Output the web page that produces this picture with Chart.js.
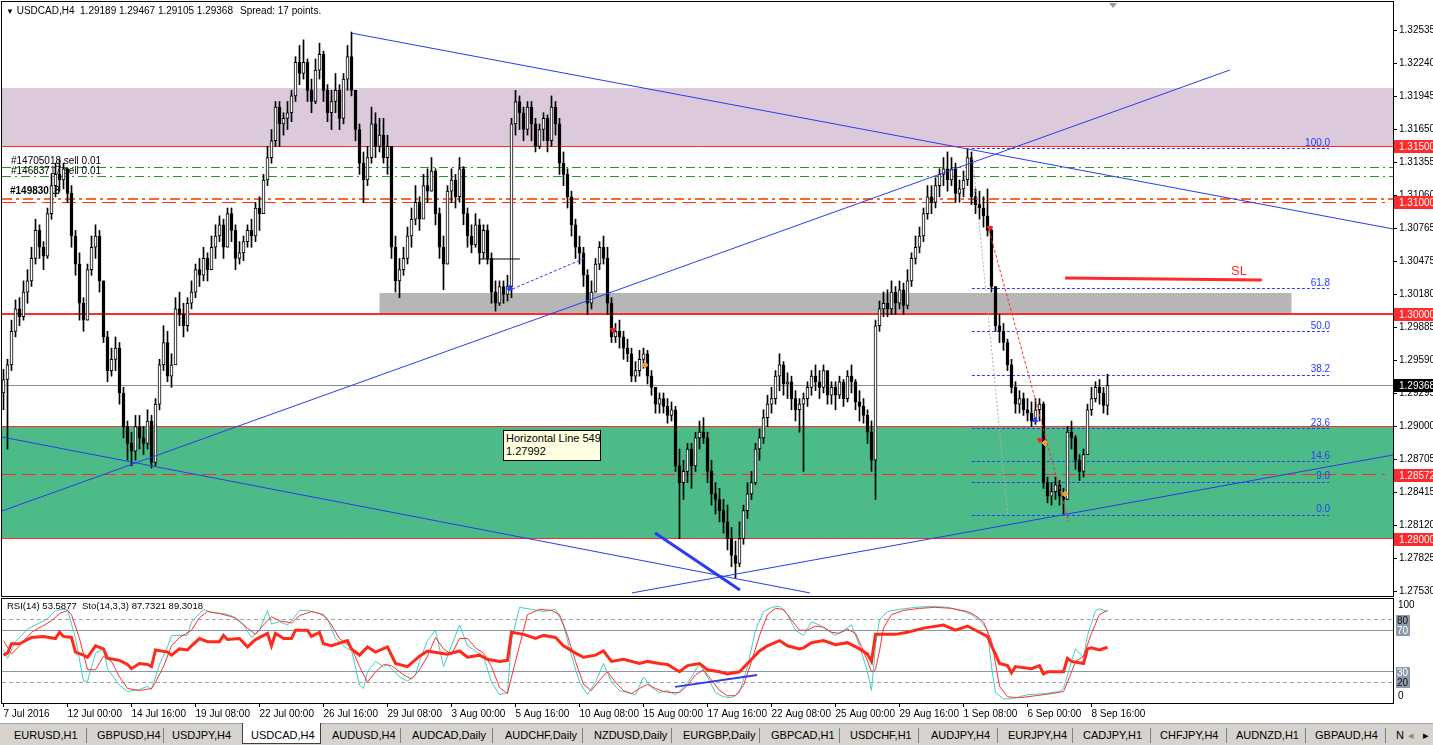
<!DOCTYPE html>
<html>
<head>
<meta charset="utf-8">
<script src="https://cdn.jsdelivr.net/npm/chart.js@4.4.1/dist/chart.umd.min.js"></script>
<style>
html,body{margin:0;padding:0;background:#fff;}
body{width:1433px;height:745px;position:relative;overflow:hidden;font-family:"Liberation Sans",Arial,sans-serif;color:#000;}
canvas{position:absolute;left:0;}
#mainCv{top:0;}
#indCv{top:597px;}
#hdr{position:absolute;left:6px;top:5px;font-size:10px;line-height:12px;white-space:pre;}
#hdr .tri{font-size:8px;}
#spread{position:absolute;left:240px;top:5px;font-size:10px;line-height:12px;white-space:pre;}
#indCap{position:absolute;left:7px;top:600px;font-size:9.5px;line-height:12px;white-space:pre;}
#tip{position:absolute;left:503px;top:430px;width:92px;height:27px;border:1px solid #000;background:#FFFFE1;font-size:11px;line-height:13px;padding:1px 2px;white-space:nowrap;}
#tabs{position:absolute;left:0;top:723px;width:1433px;height:22px;background:#D6D3CE;border-top:1px solid #A0A0A0;}
.tab{position:absolute;top:5px;font-size:11px;line-height:13px;color:#000;white-space:nowrap;}
.sep{position:absolute;top:4px;width:1px;height:15px;background:#808080;}
#act{position:absolute;left:242px;top:-1px;width:77px;height:20px;background:#fff;border:1px solid #404040;border-top:none;}
</style>
</head>
<body>
<canvas id="mainCv" width="1433" height="597"></canvas>
<canvas id="indCv" width="1433" height="126"></canvas>
<div id="hdr"><span class="tri">▼</span> USDCAD,H4  1.29189 1.29467 1.29105 1.29368</div>
<div id="spread">Spread: 17 points.</div>
<div id="indCap">RSI(14) 53.5877  Sto(14,3,3) 87.7321 89.3018</div>
<div id="tip">Horizontal Line 549<br>1.27992</div>
<div id="tabs"><div id="act"></div></div>
<script>
// ---------------- DATA ----------------
const tickLabels = ['7 Jul 2016','12 Jul 00:00','14 Jul 16:00','19 Jul 08:00','22 Jul 00:00','26 Jul 16:00','29 Jul 08:00','3 Aug 00:00','5 Aug 16:00','10 Aug 08:00','15 Aug 00:00','17 Aug 16:00','22 Aug 08:00','25 Aug 00:00','29 Aug 16:00','1 Sep 08:00','6 Sep 00:00','8 Sep 16:00'];
const barsPerLabel = 16;
const priceTicks = [1.27530,1.27825,1.28120,1.28415,1.28705,1.29000,1.29295,1.29590,1.29885,1.30180,1.30475,1.30765,1.31060,1.31355,1.31650,1.31945,1.32240,1.32535];

const firstOpen = 1.2930;
const closes = [
1.2942,1.2955,1.2985,1.3005,1.2998,1.3020,1.3030,1.3050,1.3075,1.3060,
1.3052,1.3090,1.3115,1.3125,1.3120,1.3130,1.3108,1.3070,1.3045,1.3010,
1.2995,1.3040,1.3060,1.3070,1.3030,1.2980,1.2950,1.2960,1.2970,1.2930,
1.2900,1.2885,1.2878,1.2900,1.2890,1.2885,1.2905,1.2868,1.2920,1.2955,
1.2975,1.2945,1.2955,1.3005,1.3000,1.2990,1.3010,1.3020,1.3040,1.3035,
1.3050,1.3040,1.3060,1.3070,1.3080,1.3060,1.3090,1.3075,1.3050,1.3055,
1.3065,1.3075,1.3070,1.3095,1.3090,1.3120,1.3140,1.3155,1.3185,1.3170,
1.3175,1.3180,1.3195,1.3225,1.3215,1.3225,1.3200,1.3190,1.3218,1.3232,
1.3200,1.3180,1.3190,1.3200,1.3175,1.3210,1.3230,1.3200,1.3165,1.3135,
1.3120,1.3140,1.3170,1.3150,1.3160,1.3140,1.3150,1.3060,1.3030,1.3040,
1.3050,1.3070,1.3085,1.3100,1.3085,1.3115,1.3110,1.3128,1.3090,1.3060,
1.3045,1.3110,1.3120,1.3105,1.3130,1.3090,1.3070,1.3062,1.3080,1.3055,
1.3075,1.3050,1.3020,1.3010,1.3025,1.3018,1.3025,1.3170,1.3190,1.3180,
1.3165,1.3185,1.3170,1.3150,1.3165,1.3175,1.3155,1.3185,1.3170,1.3135,
1.3125,1.3105,1.3080,1.3060,1.3055,1.3035,1.3010,1.3020,1.3045,1.3060,
1.3050,1.3010,1.2980,1.2985,1.2980,1.2970,1.2965,1.2945,1.2950,1.2960,
1.2965,1.2945,1.2935,1.2920,1.2925,1.2918,1.2910,1.2915,1.2865,1.2850,
1.2860,1.2880,1.2865,1.2890,1.2895,1.2890,1.2860,1.2840,1.2835,1.2825,
1.2815,1.2800,1.2785,1.2778,1.2800,1.2825,1.2840,1.2850,1.2880,1.2890,
1.2908,1.2920,1.2925,1.2945,1.2955,1.2938,1.2940,1.2925,1.2915,1.2920,
1.2925,1.2935,1.2945,1.2940,1.2935,1.2950,1.2928,1.2935,1.2928,1.2940,
1.2925,1.2945,1.2940,1.2922,1.2918,1.2910,1.2895,1.2870,1.2990,1.3005,
1.3010,1.3005,1.3020,1.3010,1.3022,1.3008,1.3030,1.3050,1.3060,1.3070,
1.3090,1.3105,1.3100,1.3115,1.3125,1.3130,1.3120,1.3130,1.3108,1.3112,
1.3120,1.3140,1.3105,1.3098,1.3095,1.3088,1.3075,1.3025,1.2990,1.2985,
1.2975,1.2955,1.2935,1.2920,1.2925,1.2915,1.2912,1.2905,1.2915,1.2920,
1.2850,1.2838,1.2842,1.2848,1.2838,1.2835,1.2895,1.2890,1.2870,1.2860,
1.2875,1.2915,1.2925,1.2935,1.2930,1.29189,1.29368];
const highs = [
1.2951,1.2960,1.2995,1.3013,1.3015,1.3030,1.3040,1.3060,1.3085,1.3080,
1.3065,1.3095,1.3125,1.3135,1.3138,1.3135,1.3130,1.3115,1.3075,1.3055,
1.3015,1.3045,1.3070,1.3080,1.3075,1.3030,1.2985,1.2970,1.2980,1.2975,
1.2935,1.2905,1.2895,1.2910,1.2910,1.2900,1.2915,1.2910,1.2925,1.2960,
1.2990,1.2985,1.2965,1.3015,1.3020,1.3010,1.3015,1.3030,1.3045,1.3050,
1.3060,1.3055,1.3070,1.3080,1.3088,1.3085,1.3095,1.3095,1.3080,1.3065,
1.3070,1.3080,1.3085,1.3100,1.3105,1.3125,1.3150,1.3165,1.3190,1.3190,
1.3180,1.3190,1.3200,1.3230,1.3240,1.3245,1.3228,1.3210,1.3228,1.3242,
1.3235,1.3205,1.3200,1.3215,1.3205,1.3215,1.3240,1.3252,1.3200,1.3170,
1.3145,1.3150,1.3185,1.3180,1.3175,1.3175,1.3160,1.3150,1.3070,1.3050,
1.3060,1.3078,1.3095,1.3115,1.3105,1.3125,1.3130,1.3140,1.3130,1.3095,
1.3070,1.3115,1.3130,1.3125,1.3140,1.3132,1.3095,1.3080,1.3090,1.3085,
1.3080,1.3080,1.3055,1.3030,1.3030,1.3030,1.3035,1.3175,1.3200,1.3195,
1.3185,1.3190,1.3190,1.3175,1.3170,1.3180,1.3178,1.3195,1.3190,1.3175,
1.3145,1.3130,1.3110,1.3085,1.3070,1.3060,1.3040,1.3030,1.3050,1.3065,
1.3070,1.3060,1.3015,1.2992,1.2995,1.2985,1.2978,1.2970,1.2958,1.2968,
1.2970,1.2968,1.2950,1.2935,1.2930,1.2930,1.2925,1.2922,1.2918,1.2880,
1.2870,1.2885,1.2885,1.2895,1.2905,1.2908,1.2895,1.2870,1.2850,1.2845,
1.2835,1.2830,1.2810,1.2798,1.2815,1.2830,1.2850,1.2860,1.2885,1.2898,
1.2915,1.2928,1.2935,1.2950,1.2965,1.2958,1.2948,1.2945,1.2932,1.2925,
1.2930,1.2940,1.2950,1.2955,1.2950,1.2955,1.2950,1.2940,1.2940,1.2945,
1.2942,1.2950,1.2955,1.2942,1.2932,1.2925,1.2915,1.2905,1.2995,1.3012,
1.3020,1.3022,1.3030,1.3025,1.3030,1.3028,1.3040,1.3055,1.3070,1.3078,
1.3095,1.3115,1.3115,1.3122,1.3130,1.3140,1.3145,1.3140,1.3135,1.3120,
1.3128,1.3148,1.3145,1.3112,1.3110,1.3105,1.3112,1.3078,1.3025,1.3000,
1.2992,1.2978,1.2960,1.2940,1.2932,1.2930,1.2925,1.2922,1.2925,1.2925,
1.2922,1.2855,1.2850,1.2855,1.2852,1.2845,1.2900,1.2905,1.2892,1.2875,
1.2880,1.2920,1.2935,1.2940,1.2942,1.2935,1.29467];
const lows = [
1.2915,1.2880,1.2950,1.2980,1.2990,1.2995,1.3010,1.3025,1.3045,1.3050,
1.3040,1.3050,1.3085,1.3105,1.3110,1.3112,1.3100,1.3060,1.3035,1.2995,
1.2985,1.2995,1.3035,1.3050,1.3020,1.2975,1.2940,1.2945,1.2950,1.2920,
1.2890,1.2870,1.2865,1.2870,1.2880,1.2875,1.2880,1.2863,1.2865,1.2915,
1.2950,1.2940,1.2935,1.2960,1.2990,1.2980,1.2985,1.3005,1.3015,1.3025,
1.3030,1.3030,1.3040,1.3050,1.3065,1.3050,1.3060,1.3065,1.3040,1.3045,
1.3048,1.3060,1.3060,1.3065,1.3075,1.3090,1.3115,1.3135,1.3150,1.3150,
1.3160,1.3165,1.3172,1.3190,1.3205,1.3210,1.3190,1.3180,1.3188,1.3210,
1.3190,1.3172,1.3165,1.3180,1.3165,1.3170,1.3200,1.3195,1.3155,1.3125,
1.3100,1.3115,1.3135,1.3140,1.3145,1.3135,1.3125,1.3050,1.3020,1.3015,
1.3035,1.3045,1.3060,1.3080,1.3075,1.3090,1.3100,1.3110,1.3080,1.3050,
1.3022,1.3045,1.3100,1.3095,1.3100,1.3080,1.3060,1.3055,1.3060,1.3045,
1.3050,1.3045,1.3010,1.3003,1.3008,1.3010,1.3012,1.3015,1.3160,1.3165,
1.3155,1.3160,1.3155,1.3145,1.3148,1.3155,1.3145,1.3150,1.3160,1.3125,
1.3115,1.3095,1.3070,1.3050,1.3045,1.3025,1.3000,1.3005,1.3020,1.3040,
1.3045,1.3000,1.2975,1.2975,1.2970,1.2960,1.2958,1.2940,1.2940,1.2945,
1.2952,1.2938,1.2928,1.2912,1.2912,1.2912,1.2903,1.2905,1.2860,1.2800,
1.2835,1.2850,1.2845,1.2860,1.2880,1.2885,1.2850,1.2830,1.2822,1.2815,
1.2805,1.2790,1.2775,1.2765,1.2775,1.2795,1.2818,1.2835,1.2848,1.2870,
1.2885,1.2900,1.2912,1.2920,1.2932,1.2928,1.2925,1.2915,1.2905,1.2895,
1.2860,1.2918,1.2928,1.2932,1.2925,1.2930,1.2920,1.2920,1.2915,1.2925,
1.2918,1.2922,1.2930,1.2915,1.2905,1.2903,1.2885,1.2860,1.2835,1.2985,
1.2998,1.2998,1.3000,1.3000,1.3005,1.3000,1.3005,1.3025,1.3045,1.3055,
1.3065,1.3085,1.3090,1.3095,1.3105,1.3115,1.3110,1.3115,1.3100,1.3100,
1.3105,1.3115,1.3098,1.3090,1.3085,1.3078,1.3070,1.3020,1.2985,1.2975,
1.2968,1.2950,1.2930,1.2912,1.2912,1.2910,1.2905,1.2900,1.2902,1.2905,
1.2845,1.2832,1.2830,1.2835,1.2830,1.2822,1.2835,1.2880,1.2862,1.2852,
1.2855,1.2875,1.2910,1.2922,1.2920,1.2912,1.29105];

// indicator readings: [bar index, value]
const rsiPts = [[0,46],[1,48],[2,57],[4,57],[7,63],[10,64],[13,62],[14,68],[15,64],[17,63],[18,49],[20,46],[21,44],[23,55],[25,52],[26,43],[29,41],[31,37],[32,33],[34,38],[36,37],[37,35],[38,51],[41,49],[42,46],[44,52],[46,51],[47,55],[49,62],[51,59],[54,59],[55,65],[56,61],[59,62],[61,54],[63,61],[66,67],[67,55],[68,67],[70,62],[72,62],[73,70],[76,70],[77,64],[79,68],[80,57],[82,55],[86,60],[87,52],[89,46],[91,54],[93,49],[96,54],[98,38],[101,35],[104,45],[106,50],[109,48],[111,47],[114,50],[116,44],[119,46],[121,42],[124,40],[126,41],[127,68],[130,66],[133,62],[135,65],[138,63],[140,55],[143,48],[145,44],[148,46],[150,50],[152,40],[155,42],[159,38],[161,40],[164,38],[166,37],[169,30],[171,36],[174,38],[176,32],[179,30],[181,28],[184,30],[186,38],[189,50],[191,55],[194,60],[196,55],[199,52],[200,53],[202,58],[205,60],[208,56],[211,58],[214,52],[216,47],[217,40],[218,66],[223,66],[226,68],[230,72],[235,75],[238,70],[241,74],[244,68],[246,64],[247,55],[248,47],[249,38],[251,36],[252,29],[253,35],[257,33],[259,36],[260,28],[261,30],[265,30],[266,43],[267,40],[270,38],[271,52],[272,53],[274,51],[276,53.59]];
const stochMainPts = [[0,51],[1,43],[3,59],[6,71],[11,81],[13,89],[15,90],[16,90],[18,62],[20,21],[21,21],[23,48],[25,52],[26,33],[29,17],[31,11],[34,13],[36,16],[37,13],[39,37],[41,54],[42,65],[46,65],[47,78],[50,90],[52,87],[55,86],[57,84],[60,75],[62,63],[64,70],[66,89],[67,76],[69,78],[71,75],[72,79],[74,89],[76,89],[79,86],[81,81],[83,62],[86,52],[87,51],[89,17],[90,14],[91,30],[93,40],[95,35],[96,37],[99,25],[101,21],[103,27],[104,40],[106,60],[108,70],[110,35],[112,55],[114,75],[116,55],[118,50],[120,45],[122,20],[124,8],[126,10],[127,60],[129,92],[132,90],[135,88],[138,90],[140,75],[142,45],[144,20],[146,8],[148,20],[150,38],[152,20],[154,12],[156,10],[158,8],[160,25],[162,15],[164,10],[166,12],[168,8],[170,15],[172,25],[174,38],[176,25],[178,10],[180,6],[182,5],[184,10],[186,35],[188,70],[190,88],[192,92],[194,93],[196,85],[198,70],[200,65],[202,78],[204,75],[206,70],[208,65],[210,70],[212,75],[214,55],[216,30],[217,12],[218,55],[219,80],[221,88],[224,90],[228,92],[232,93],[236,92],[240,88],[242,85],[244,80],[246,70],[247,35],[248,10],[250,4],[252,4],[256,8],[260,9],[264,11],[265,14],[267,40],[268,52],[270,44],[271,65],[273,89],[274,90.5],[276,87.73]];
const stochSignalPts = [[0,60],[2,47],[4,55],[7,68],[12,79],[14,86],[16,89],[17,85],[19,62],[21,32],[23,32],[25,45],[27,40],[29,25],[31,14],[34,12],[37,14],[38,20],[40,35],[42,55],[44,63],[47,70],[49,82],[51,88],[54,86],[58,82],[61,72],[63,66],[65,75],[67,83],[69,79],[72,77],[74,84],[77,88],[80,85],[82,75],[84,62],[87,53],[89,35],[91,20],[93,30],[95,37],[97,36],[100,27],[102,23],[104,32],[106,45],[108,63],[110,52],[112,47],[114,62],[116,62],[118,53],[120,48],[122,35],[124,15],[126,9],[127,25],[129,55],[131,85],[134,90],[137,89],[139,85],[141,65],[143,40],[145,18],[147,12],[149,22],[151,30],[153,20],[155,12],[157,9],[159,14],[161,18],[163,14],[165,11],[167,10],[169,10],[171,17],[173,27],[175,32],[177,22],[179,12],[181,7],[183,7],[185,17],[187,40],[189,65],[191,85],[193,91],[195,90],[197,80],[199,70],[201,70],[203,74],[205,73],[207,68],[209,67],[211,71],[213,67],[215,50],[217,30],[218,32],[219,50],[220,72],[222,85],[225,89],[229,91],[233,92],[237,91],[241,88],[243,84],[245,78],[247,60],[248,38],[249,16],[251,6],[254,5],[258,7],[262,9],[265,11],[266,20],[268,40],[270,45],[272,67],[274,85],[276,89.30]];
const rsiLevels = [20, 30, 70, 80];

// price objects
const purpleZone = [1.3150, 1.3202];
const greenZone = [1.2800, 1.2900];
const greyZoneBars = [94, 322];
const greyZonePrices = [1.3000, 1.30192];
const thinRedLevels = [1.3150, 1.2900, 1.2800];
const boldRedLevel = 1.3000;
const dashedRedLevels = [1.3100, 1.28572];
const orangeLevel = 1.3103;
const orderLevels = [1.31313, 1.31229];
const orderTexts = ['#14705018 sell 0.01', '#14683717 sell 0.01'];
const orangeText = '#14983018';
const currentPrice = 1.29368;
const redAxisLabels = [1.31500, 1.31000, 1.30000, 1.28572, 1.28000];
const fibHigh = 1.3148, fibLow = 1.2821;
const fibRatios = [0, 9.0, 14.6, 23.6, 38.2, 50.0, 61.8, 100.0];
const fibBars = [242.1, 331.4];

const trendTop = [[87, 1.3251], [347.4, 1.30763]];
const trendRise = [[-0.4, 1.28247], [306.6, 1.32181]];
const trendFall = [[-0.4, 1.28907], [201.6, 1.27516]];
const trendLow = [[157.1, 1.27516], [347.4, 1.28747]];
const divergencePrice = [[162.9, 1.28051], [184.1, 1.27543]];
const dottedBlue = [[126.1, 1.30210], [145.4, 1.30504]];
const blackSeg = [[119.1, 1.30495], [129.1, 1.30495]];
const redDiag = [[246.1, 1.30790], [266.3, 1.28150]];
const greyDiag = [[242.1, 1.31467], [251.1, 1.28212]];
const slLine = [[265.4, 1.30326], [314.6, 1.30308]];
const divergenceRsi = [[167.9, 15.5], [188.4, 27]];
// trade arrows: [bar index, price]
const sellMarks = [[152.4, 1.29862], [246.6, 1.30772], [259.1, 1.28880]];
const buyMarks = [[126.6, 1.30236], [257.9, 1.29059]];
const closeMarks = [[160.4, 1.29550], [260.4, 1.28854], [265.4, 1.28399]];

const tabNames = ['EURUSD,H1','GBPUSD,H4','USDJPY,H4','USDCAD,H4','AUDUSD,H4','AUDCAD,Daily','AUDCHF,Daily','NZDUSD,Daily','EURGBP,Daily','GBPCAD,H1','USDCHF,H1','AUDJPY,H4','EURJPY,H4','CADJPY,H1','CHFJPY,H4','AUDNZD,H1','GBPAUD,H4','N'];

// ---------------- LAYOUT ----------------
const tabLefts = [14,97,172,251,332,412,505,594,683,771,850,931,1008,1083,1160,1236,1315,1396];
const sepLefts = [86,163,400,492,582,671,759,839,918,997,1072,1150,1226,1305,1385];
const tabsEl = document.getElementById('tabs');
tabNames.forEach((t,k)=>{const d=document.createElement('div');d.className='tab';d.style.left=tabLefts[k]+'px';d.textContent=t;tabsEl.appendChild(d);});
sepLefts.forEach(x=>{const d=document.createElement('div');d.className='sep';d.style.left=x+'px';tabsEl.appendChild(d);});
const arr=document.createElement('div');arr.className='tab';arr.style.left='1408px';arr.style.color='#888';arr.textContent='◂';tabsEl.appendChild(arr);
const arr2=document.createElement('div');arr2.className='tab';arr2.style.left='1423px';arr2.textContent='▸';tabsEl.appendChild(arr2);

Chart.defaults.font.family = '"Liberation Sans", Arial, sans-serif';
Chart.defaults.font.size = 10;
Chart.defaults.color = '#000';

const X_MIN = -0.375, X_MAX = 347.375;
const Y_MIN = 1.274888, Y_MAX = 1.327877;
const FONT = '10px "Liberation Sans", Arial, sans-serif';

const opens = closes.map((c,i)=> i===0 ? firstOpen : closes[i-1]);
const wickData = closes.map((c,i)=>({x:i, y:[lows[i], highs[i]]}));
const bodyData = closes.map((c,i)=>({x:i, y:[opens[i], c]}));
const bodyFill = closes.map((c,i)=> c >= opens[i] ? '#ffffff' : '#000000');
const toXY = pts => pts.map(p=>({x:p[0], y:p[1]}));

function hLine(ctx, a, py, color, w, dash, x0, x1){
  ctx.save();
  ctx.strokeStyle=color; ctx.lineWidth=w; ctx.setLineDash(dash||[]);
  const yy = (w%2===1) ? Math.round(py-0.5)+0.5 : Math.round(py);
  ctx.beginPath(); ctx.moveTo(x0===undefined?a.left:x0, yy); ctx.lineTo(x1===undefined?a.right:x1, yy); ctx.stroke();
  ctx.restore();
}
function frame(ctx,a){
  ctx.save(); ctx.strokeStyle='#000'; ctx.lineWidth=1;
  ctx.strokeRect(a.left-0.5, a.top-0.5, a.right-a.left+1, a.bottom-a.top+1);
  ctx.restore();
}
function noPad(s){ s.paddingTop=0; s.paddingBottom=0; s.paddingLeft=0; s.paddingRight=0; }

const mainOverlay = {
  id:'mainOverlay',
  beforeDatasetsDraw(chart){
    const {ctx, chartArea:a, scales:{x:xs, y:ys}} = chart;
    ctx.save();
    ctx.beginPath(); ctx.rect(a.left,a.top,a.right-a.left,a.bottom-a.top); ctx.clip();
    let t=ys.getPixelForValue(purpleZone[1]), b=ys.getPixelForValue(purpleZone[0]);
    ctx.fillStyle='#DCCADC'; ctx.fillRect(a.left,t,a.right-a.left,b-t);
    t=ys.getPixelForValue(greenZone[1]); b=ys.getPixelForValue(greenZone[0]);
    ctx.fillStyle='#4DBB88'; ctx.fillRect(a.left,t,a.right-a.left,b-t);
    t=ys.getPixelForValue(greyZonePrices[1]); b=ys.getPixelForValue(greyZonePrices[0]);
    const gl=xs.getPixelForValue(greyZoneBars[0]), gr=xs.getPixelForValue(greyZoneBars[1]);
    ctx.fillStyle='#B6B6B6'; ctx.fillRect(gl,t,gr-gl,b-t);
    hLine(ctx,a,ys.getPixelForValue(currentPrice),'#8C8C8C',1);
    thinRedLevels.forEach(v=>hLine(ctx,a,ys.getPixelForValue(v),'#FF2B2B',1));
    hLine(ctx,a,ys.getPixelForValue(boldRedLevel),'#FF2B2B',2);
    orderLevels.forEach(v=>hLine(ctx,a,ys.getPixelForValue(v),'#1E9B1E',1,[9,4,2,4]));
    hLine(ctx,a,ys.getPixelForValue(orangeLevel),'#FF6A21',2,[10,4,3,4]);
    dashedRedLevels.forEach(v=>hLine(ctx,a,ys.getPixelForValue(v),'#FF2B2B',1,[14,6], a.left, a.right-8));
    const fx0=xs.getPixelForValue(fibBars[0]), fx1=xs.getPixelForValue(fibBars[1]);
    ctx.font=FONT; ctx.textAlign='right'; ctx.textBaseline='bottom'; ctx.fillStyle='#2A3AFF';
    fibRatios.forEach(r=>{
      const py=ys.getPixelForValue(fibLow+(fibHigh-fibLow)*r/100);
      hLine(ctx,a,py,'#2A3AFF',1,[3,2],fx0,fx1);
      ctx.fillText(r.toFixed(1), fx1+1, Math.round(py)-1);
    });
    ctx.textAlign='left'; ctx.fillStyle='#000';
    orderTexts.forEach((s,k)=>ctx.fillText(s, a.left+9, Math.round(ys.getPixelForValue(orderLevels[k]))-1));
    ctx.font='bold 10px "Liberation Sans", Arial, sans-serif';
    ctx.fillText(orangeText, a.left+8, Math.round(ys.getPixelForValue(orangeLevel))-3);
    ctx.restore();
  },
  afterDatasetsDraw(chart){
    const {ctx, scales:{x:xs, y:ys}} = chart;
    ctx.save();
    ctx.font='13px "Liberation Sans", Arial, sans-serif'; ctx.fillStyle='#FF2B2B'; ctx.textBaseline='bottom'; ctx.textAlign='left';
    ctx.fillText('SL', xs.getPixelForValue(306.9), ys.getPixelForValue(slLine[1][1])-2);
    ctx.restore();
  },
  afterDraw(chart){
    const {ctx, chartArea:a, scales:{x:xs, y:ys}} = chart;
    frame(ctx,a);
    ctx.save();
    ctx.font=FONT; ctx.textBaseline='middle'; ctx.textAlign='left';
    const boxes = redAxisLabels.map(v=>[v,'#FF2B2B']).concat([[currentPrice,'#000000']]);
    boxes.forEach(([v,bg])=>{
      const py=Math.round(ys.getPixelForValue(v));
      ctx.fillStyle=bg; ctx.fillRect(a.right+1, py-6, 39, 13);
      ctx.fillStyle='#fff'; ctx.fillText(v.toFixed(5), a.right+6, py+1);
    });
    const sx = Math.round(xs.getPixelForValue(277.4));
    ctx.fillStyle='#9A9A9A'; ctx.beginPath(); ctx.moveTo(sx-4,a.top+1); ctx.lineTo(sx+4,a.top+1); ctx.lineTo(sx,a.top+6); ctx.closePath(); ctx.fill();
    ctx.restore();
  }
};

const lineDs = (pts,color,w,dash,order)=>({type:'line', data:toXY(pts), borderColor:color, borderWidth:w, borderDash:dash||[], pointRadius:0, fill:false, tension:0, order:order===undefined?0:order});
const markDs = (pts,color,style,rot)=>({type:'line', data:toXY(pts), showLine:false, pointRadius:3, pointStyle:style, pointRotation:rot||0, pointBackgroundColor:color, pointBorderColor:color, pointBorderWidth:1, order:0});

new Chart(document.getElementById('mainCv'), {
  type:'bar',
  data:{datasets:[
    lineDs(trendTop,'#2A3CF0',1),
    lineDs(trendRise,'#2A3CF0',1),
    lineDs(trendFall,'#2A3CF0',1),
    lineDs(trendLow,'#2A3CF0',1),
    lineDs(divergencePrice,'#2A3CF0',3),
    lineDs(dottedBlue,'#2A3CF0',1,[3,2]),
    lineDs(blackSeg,'#000000',1),
    lineDs(redDiag,'#FF2B2B',1,[3,2]),
    lineDs(greyDiag,'#B0B0B0',1,[2,2]),
    lineDs(slLine,'#FF2B2B',3),
    markDs(sellMarks,'#FF2020','triangle',180),
    markDs(buyMarks,'#2040FF','triangle',0),
    markDs(closeMarks,'#F0A030','rectRot',0),
    {label:'body', data:bodyData, backgroundColor:bodyFill, borderColor:'#000', borderWidth:1, borderSkipped:false, barThickness:3, grouped:false, minBarLength:1, order:1},
    {label:'wick', data:wickData, backgroundColor:'#000', borderWidth:0, barThickness:1, grouped:false, order:2}
  ]},
  options:{
    responsive:false, animation:false, devicePixelRatio:1,
    layout:{autoPadding:false, padding:{left:2, top:2, right:0, bottom:1}},
    plugins:{legend:{display:false}, tooltip:{enabled:false}},
    scales:{
      x:{type:'linear', min:X_MIN, max:X_MAX, display:false, offset:false},
      y:{position:'right', min:Y_MIN, max:Y_MAX,
         afterFit:s=>{s.width=40; noPad(s);},
         afterBuildTicks:ax=>{ax.ticks=priceTicks.map(v=>({value:v}));},
         ticks:{autoSkip:false, padding:2, color:'#000', font:{size:10}, callback:v=>Number(v).toFixed(5)},
         grid:{drawOnChartArea:false, tickLength:4, color:'#000'},
         border:{color:'#000'}}
    }
  },
  plugins:[mainOverlay]
});

const indOverlay = {
  id:'indOverlay',
  beforeDatasetsDraw(chart){
    const {ctx, chartArea:a, scales:{y:ys}} = chart;
    rsiLevels.forEach(v=>{
      const py=ys.getPixelForValue(v);
      if(v===20||v===80) hLine(ctx,a,py,'#A0A4A8',1,[4,3]);
      else hLine(ctx,a,py,'#8795A6',1);
    });
  },
  afterDraw(chart){
    const {ctx, chartArea:a, scales:{y:ys}} = chart;
    frame(ctx,a);
    ctx.save();
    ctx.font=FONT; ctx.textBaseline='middle'; ctx.textAlign='left'; ctx.fillStyle='#000';
    ctx.fillText('100', a.right+5, Math.round(ys.getPixelForValue(100))+6);
    ctx.fillText('0', a.right+5, Math.round(ys.getPixelForValue(0))-7);
    rsiLevels.forEach(v=>{
      const py=Math.round(ys.getPixelForValue(v));
      ctx.fillStyle='#8E9BAA'; ctx.fillRect(a.right+3, py-5, 14, 11);
      ctx.fillStyle=(v===20||v===80)?'#111':'#fff';
      ctx.fillText(String(v), a.right+4, py+1);
    });
    ctx.restore();
  }
};

new Chart(document.getElementById('indCv'), {
  type:'line',
  data:{datasets:[
    {data:toXY(rsiPts), borderColor:'#FF2A1A', borderWidth:3, pointRadius:0, tension:0, order:0},
    {data:toXY(divergenceRsi), borderColor:'#2A3CF0', borderWidth:2, pointRadius:0, tension:0, order:0},
    {data:toXY(stochSignalPts), borderColor:'#FF3030', borderWidth:1, pointRadius:0, tension:0, order:1},
    {data:toXY(stochMainPts), borderColor:'#40CFC4', borderWidth:1, pointRadius:0, tension:0, order:2}
  ]},
  options:{
    responsive:false, animation:false, devicePixelRatio:1,
    layout:{autoPadding:false, padding:{left:2, top:2, right:0, bottom:0}},
    plugins:{legend:{display:false}, tooltip:{enabled:false}},
    scales:{
      x:{type:'linear', min:X_MIN, max:X_MAX, offset:false,
         afterFit:s=>{s.height=20; noPad(s);},
         afterBuildTicks:ax=>{ax.ticks=tickLabels.map((t,k)=>({value:k*barsPerLabel}));},
         ticks:{autoSkip:false, maxRotation:0, minRotation:0, align:'start', padding:1, color:'#000', font:{size:10}, callback:(v,i)=>tickLabels[i]},
         grid:{drawOnChartArea:false, tickLength:4, color:'#000'},
         border:{color:'#000'}},
      y:{position:'right', min:0, max:100,
         afterFit:s=>{s.width=40; noPad(s);},
         ticks:{display:false},
         grid:{display:false},
         border:{color:'#000'}}
    }
  },
  plugins:[indOverlay]
});
</script>
</body>
</html>
